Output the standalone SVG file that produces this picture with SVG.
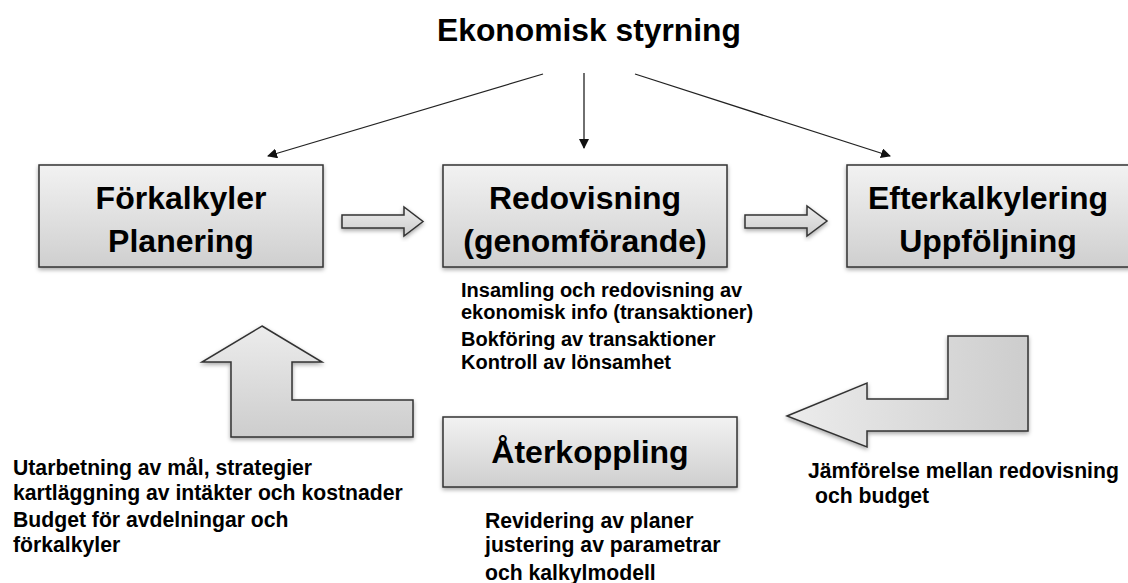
<svg xmlns="http://www.w3.org/2000/svg" width="1128" height="583" viewBox="0 0 1128 583">
<style>
text{font-family:"Liberation Sans",Arial,sans-serif;font-weight:bold;fill:#000}
.lbl{font-size:32px;text-anchor:middle}
.title{font-size:31.8px;text-anchor:middle}
.note{font-size:20px}
.note2{font-size:21.2px}
.box{fill:url(#gBox);stroke:#333;stroke-width:1.5;filter:url(#sh)}
.blk{stroke:#333;stroke-width:1.5;filter:url(#sh)}
.thin{stroke:#222;stroke-width:1.3;fill:none;marker-end:url(#ah)}
</style>
<defs>
<linearGradient id="gBox" x1="0" y1="0" x2="0" y2="1">
<stop offset="0" stop-color="#f2f2f2"/><stop offset="1" stop-color="#cfcfcf"/>
</linearGradient>
<linearGradient id="gV" x1="0" y1="0" x2="0" y2="1">
<stop offset="0" stop-color="#ececec"/><stop offset="1" stop-color="#cdcdcd"/>
</linearGradient>
<linearGradient id="gH" x1="0" y1="0" x2="1" y2="0">
<stop offset="0" stop-color="#ececec"/><stop offset="1" stop-color="#cdcdcd"/>
</linearGradient>
<filter id="sh" x="-10%" y="-10%" width="120%" height="130%">
<feDropShadow dx="0" dy="2" stdDeviation="2" flood-color="#000" flood-opacity="0.35"/>
</filter>
<marker id="ah" viewBox="0 0 10 10" refX="9" refY="5" markerWidth="10" markerHeight="10" orient="auto" markerUnits="userSpaceOnUse">
<path d="M0,0 L10,5 L0,10 Z" fill="#111"/>
</marker>
</defs>
<rect width="1128" height="583" fill="#fff"/>

<g id="title"><text class="title" x="589" y="41">Ekonomisk styrning</text></g>

<g id="connectors">
<line class="thin" x1="543" y1="74" x2="268" y2="156"/>
<line class="thin" x1="584" y1="73" x2="584" y2="148"/>
<line class="thin" x1="635" y1="74" x2="890" y2="156"/>
<polygon class="blk" fill="url(#gV)" points="342,215 404,215 404,207 423,221.5 404,236 404,228 342,228"/>
<polygon class="blk" fill="url(#gV)" points="745,215 807,215 807,206 827,221 807,236 807,228 745,228"/>
<polygon class="blk" fill="url(#gV)" points="262,326 322,362 292,362 292,400 413,400 413,437 231,437 231,362 202,362"/>
<polygon class="blk" fill="url(#gH)" points="787,416 867,383 867,399 948,399 948,336 1028,336 1028,431 867,431 867,447"/>
</g>

<g id="forkalkyler">
<rect class="box" x="39" y="165" width="284" height="102"/>
<text class="lbl" x="181" y="209">Förkalkyler</text>
<text class="lbl" x="181" y="252">Planering</text>
</g>

<g id="redovisning">
<rect class="box" x="443" y="165" width="284" height="102"/>
<text class="lbl" x="585" y="209">Redovisning</text>
<text class="lbl" x="585" y="252">(genomförande)</text>
</g>

<g id="efterkalkylering">
<rect class="box" x="847" y="165" width="284" height="102"/>
<text class="lbl" x="988" y="209">Efterkalkylering</text>
<text class="lbl" x="988" y="252">Uppföljning</text>
</g>

<g id="aterkoppling">
<rect class="box" x="443" y="417" width="294" height="70"/>
<text class="lbl" x="590" y="463">Återkoppling</text>
</g>

<g id="notes-redovisning">
<text class="note" x="461" y="297">Insamling och redovisning av</text>
<text class="note" x="461" y="319">ekonomisk info (transaktioner)</text>
<text class="note" x="461" y="346">Bokföring av transaktioner</text>
<text class="note" x="461" y="369">Kontroll av lönsamhet</text>
</g>

<g id="notes-planering">
<text class="note2" x="13" y="475">Utarbetning av mål, strategier</text>
<text class="note2" x="13" y="500">kartläggning av intäkter och kostnader</text>
<text class="note2" x="13" y="527">Budget för avdelningar och</text>
<text class="note2" x="13" y="552">förkalkyler</text>
</g>

<g id="notes-aterkoppling">
<text class="note2" x="485" y="528">Revidering av planer</text>
<text class="note2" x="485" y="552">justering av parametrar</text>
<text class="note2" x="485" y="580">och kalkylmodell</text>
</g>

<g id="notes-uppfoljning">
<text class="note2" x="808" y="478">Jämförelse mellan redovisning</text>
<text class="note2" x="815" y="503">och budget</text>
</g>
</svg>
